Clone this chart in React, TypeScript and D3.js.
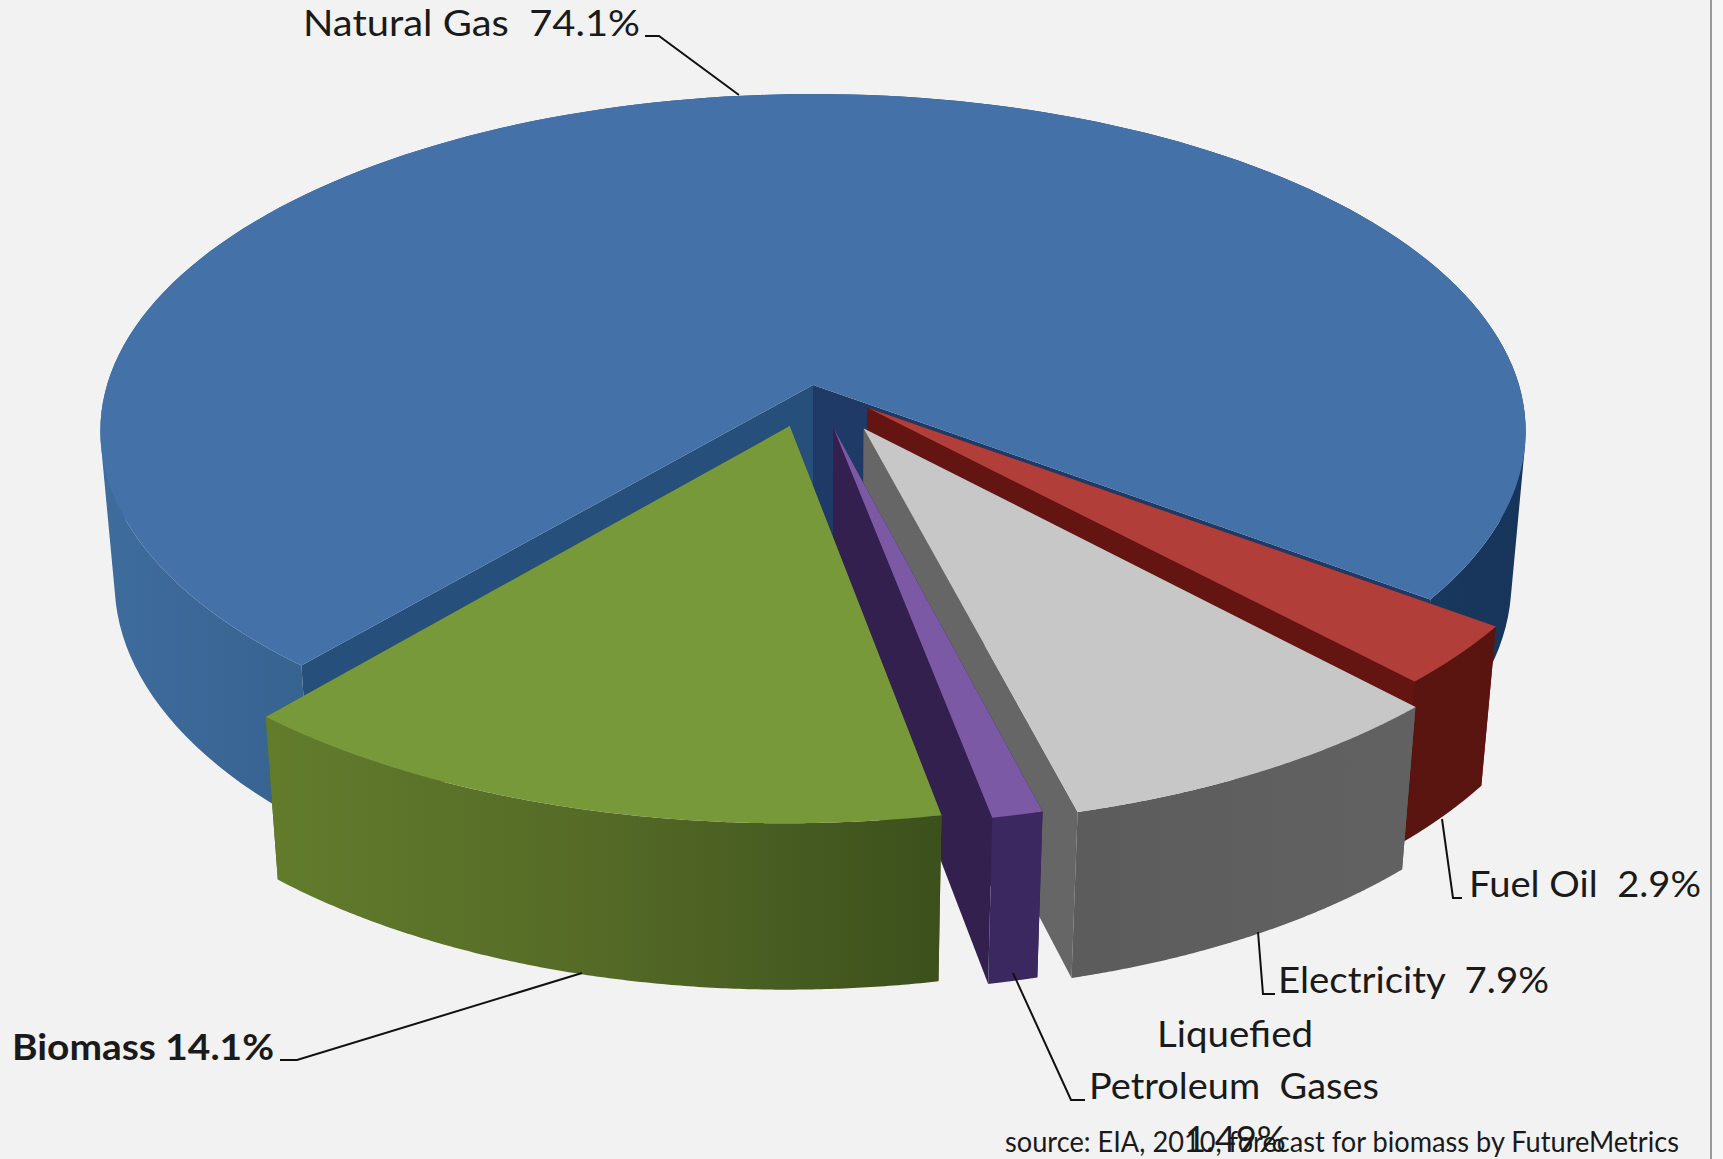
import React from "react";
import * as d3 from "d3";

const categories = ["Natural Gas", "Fuel Oil", "Electricity", "Liquefied Petroleum Gases", "Biomass"];
const shares = [74.2, 2.9, 8.0, 1.0, 14.3];
const explosion = [0, 0.1025, 0.147, 0.131, 0.1265];
const topColors = ["#4471a8", "#b23e3a", "#c7c7c7", "#7b59a5", "#78993a"];
const startWallColors = ["#264f7c", "#6a1512", "#636363", "#33204f", "#4e6325"];
const endWallColors = ["#1f3a66", "#641411", "#666666", "#33204f", "#4e6325"];
const outerWallIds = ["wall0", "wall1", "wall2", "wall3", "wall4"];

const wallStops = [
  [["0", "#3e6c9d"], ["0.16", "#36628f"], ["0.82", "#1d3f66"], ["1", "#17345a"]],
  [["0", "#5e1612"], ["1", "#5a1410"]],
  [["0", "#5a5a5a"], ["1", "#636363"]],
  [["0", "#3a2860"], ["1", "#40295f"]],
  [["0", "#627c2c"], ["0.5", "#546a26"], ["1", "#3c501c"]],
];

const labels = [
  { lines: ["Natural Gas  74.1%"], x: [303], w: [337], y: [36], bold: false },
  { lines: ["Fuel Oil  2.9%"], x: [1469], w: [232], y: [897], bold: false },
  { lines: ["Electricity  7.9%"], x: [1278], w: [271], y: [993], bold: false },
  { lines: ["Liquefied", "Petroleum  Gases", "1.49%"], x: [1157, 1089, 1185], w: [156, 290, 101], y: [1047, 1099, 1152], bold: false },
  { lines: ["Biomass 14.1%"], x: [12], w: [262], y: [1060], bold: true },
];
const leaders: [number, number][][] = [
  [[645, 36], [659, 36], [739, 95]],
  [[1442, 819], [1453, 898], [1462, 898]],
  [[1258, 932], [1263, 994], [1275, 994]],
  [[1013, 973], [1071, 1100], [1085, 1100]],
  [[582, 973], [297, 1060], [280, 1060]],
];
const sourceNote = "source: EIA, 2010, forecast for biomass by FutureMetrics";

// projective map of the tilted disc onto the page
const cx = 813, cy = 385, X = 706, Y = 330.7, Z = 153, p = 0.1365, q = 0.02;
const project = (u: number, v: number, z: number): [number, number] => {
  const w = 1 - p * v + q * z;
  return [cx + (X * u) / w, cy + (Y * v + Z * z) / w];
};

const startDeg = 220.5;
const rad = (d: number) => (d * Math.PI) / 180;
const arcs = d3
  .pie<number>()
  .sort(null)
  .startAngle(rad(startDeg))
  .endAngle(rad(startDeg + 360))(shares);

const line = d3.line();

export default function App() {
  const faces = arcs.map((a, i) => {
    const mid = (a.startAngle + a.endAngle) / 2;
    const ox = explosion[i] * Math.sin(mid);
    const oy = -explosion[i] * Math.cos(mid);
    const rim = (t: number, z: number) => project(ox + Math.sin(t), oy - Math.cos(t), z);
    const centre = (z: number) => project(ox, oy, z);
    const n = 160;
    const ts = d3.range(0, n + 1).map((k) => a.startAngle + ((a.endAngle - a.startAngle) * k) / n);
    const top = line([centre(0), ...ts.map((t) => rim(t, 0))]) + "Z";
    // wall as one union of same-wound strips, so the silhouette keeps its tangent sides
    const outer = d3
      .range(0, n)
      .map((k) => {
        const quad = [rim(ts[k], 0), rim(ts[k + 1], 0), rim(ts[k + 1], 1), rim(ts[k], 1)] as [number, number][];
        if (d3.polygonArea(quad) < 0) quad.reverse();
        return line(quad) + "Z";
      })
      .join("");
    const wall = (t: number) => line([centre(0), rim(t, 0), rim(t, 1), centre(1)]) + "Z";
    return { i, top, outer, startWall: wall(a.startAngle), endWall: wall(a.endAngle) };
  });

  return (
    <svg
      width={1723}
      height={1159}
      viewBox="0 0 1723 1159"
      style={{ position: "absolute", left: 0, top: 0, display: "block" }}
    >
      <defs>
        {wallStops.map((stops, i) => (
          <linearGradient
            key={i}
            id={outerWallIds[i]}
            gradientUnits="userSpaceOnUse"
            x1={i === 0 ? 99 : i === 4 ? 266 : 960}
            x2={i === 0 ? 1525 : i === 4 ? 940 : 1500}
            y1={0}
            y2={0}
          >
            {stops.map(([o, c]) => (
              <stop key={o} offset={o} stopColor={c} />
            ))}
          </linearGradient>
        ))}
      </defs>
      <rect x={0} y={0} width={1723} height={1159} fill="#f2f2f2" />
      <rect x={1710} y={0} width={2} height={1159} fill="#9a9a9a" />
      <rect x={1712} y={0} width={11} height={1159} fill="#f7f7f7" />
      {faces.map((f) => (
        <g key={categories[f.i]}>
          <path d={f.startWall} fill={startWallColors[f.i]} />
          <path d={f.endWall} fill={endWallColors[f.i]} />
          <path d={f.outer} fill={`url(#${outerWallIds[f.i]})`} />
          <path d={f.top} fill={topColors[f.i]} />
        </g>
      ))}
      {leaders.map((pts, i) => (
        <path key={i} d={line(pts) as string} fill="none" stroke="#111" strokeWidth={2} />
      ))}
      <g fontFamily="Lato, 'Open Sans', sans-serif" fontSize={36} fill="#1a1a1a">
        {labels.map((l) =>
          l.lines.map((t, j) => (
            <text
              key={t}
              x={l.x[j]}
              y={l.y[j]}
              textLength={l.w[j]}
              lengthAdjust="spacingAndGlyphs"
              fontWeight={l.bold ? 700 : 400}
              xmlSpace="preserve"
              style={{ whiteSpace: "pre" }}
            >
              {t}
            </text>
          ))
        )}
      </g>
      <text
        x={1005}
        y={1152}
        textLength={674}
        lengthAdjust="spacingAndGlyphs"
        fontFamily="Lato, 'Open Sans', sans-serif"
        fontSize={28}
        fill="#1a1a1a"
      >
        {sourceNote}
      </text>
    </svg>
  );
}
